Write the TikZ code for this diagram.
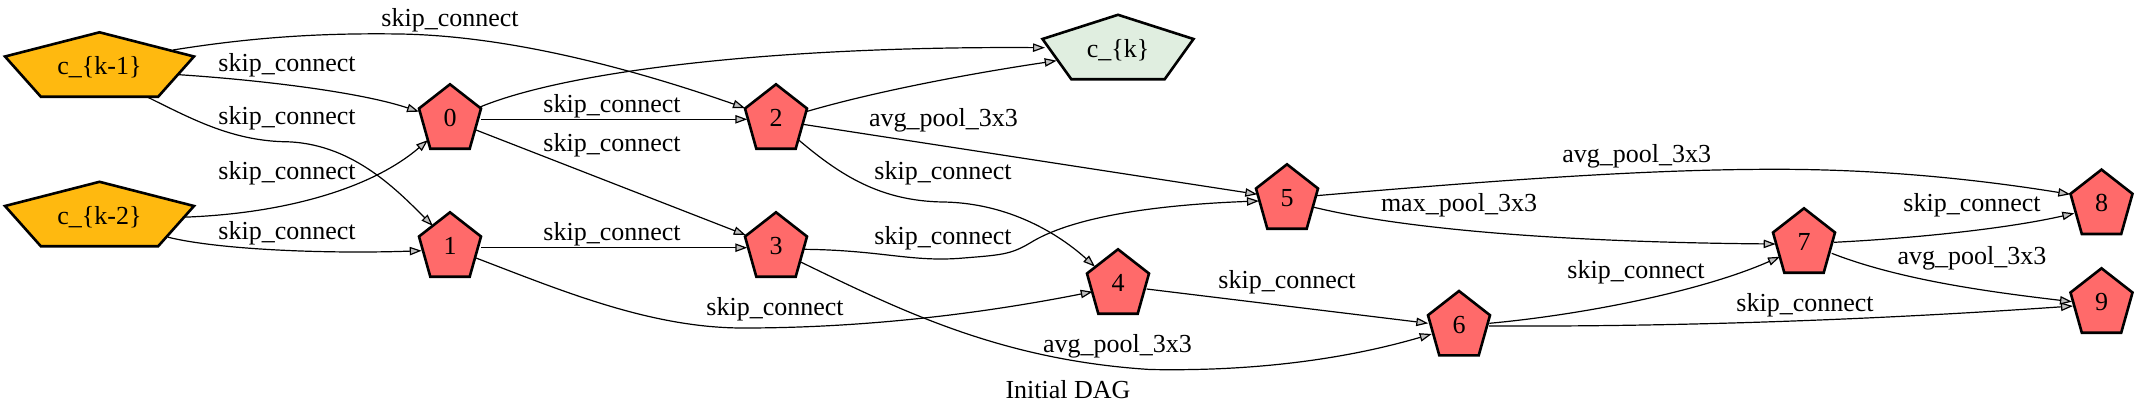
\documentclass[tikz,border=0pt]{standalone}
\usepackage{fontspec}
\setmainfont{Liberation Serif}
\usetikzlibrary{arrows.meta}
\definecolor{redfill}{HTML}{FF6A6A}
\definecolor{amberfill}{HTML}{FFB90F}
\definecolor{greenfill}{HTML}{E0EEE0}
\definecolor{arrowgray}{HTML}{C0C0C0}
\tikzset{
  pentline/.style={draw=black, line width=1.3pt, line join=miter},
  pentlabel/.style={draw=none, inner sep=0pt, text height=10pt, text depth=0pt, font=\fontsize{13pt}{15pt}\selectfont},
  conn/.style={draw=black, line width=0.6pt, -{Triangle[length=6pt,width=4.2pt,fill=arrowgray]}},
  elabel/.style={anchor=base, inner sep=0pt, font=\fontsize{13pt}{15pt}\selectfont}
}
% #1 name, #2 x, #3 y, #4 shoulder half width, #5 bottom half width, #6 fill, #7 text
\newcommand{\pentnode}[7]{%
  \draw[pentline, fill=#6] ({#2},{#3-32.2}) -- ({#2+#4},{#3-8}) -- ({#2+#5},{#3+32.2})
     -- ({#2-#5},{#3+32.2}) -- ({#2-#4},{#3-8}) -- cycle;
  \node[pentlabel, minimum width=#4pt, minimum height=32.2pt] (#1) at (#2,#3) {#7};
}
\begin{document}
\begin{tikzpicture}[x=0.5pt, y=-0.5pt]
\useasboundingbox (0,0) rectangle (2137,418);
% nodes
\pentnode{K1}{99.5}{64.5}{94.5}{58.7}{amberfill}{c\_\{k-1\}}
\pentnode{K2}{99.5}{214}{94.5}{58.7}{amberfill}{c\_\{k-2\}}
\pentnode{K}{1118}{47}{75.5}{46.7}{greenfill}{c\_\{k\}}
\pentnode{n0}{450}{116.5}{31}{19.7}{redfill}{0}
\pentnode{n1}{450}{244.5}{31}{19.7}{redfill}{1}
\pentnode{n2}{776}{116.5}{31}{19.7}{redfill}{2}
\pentnode{n3}{776}{244.5}{31}{19.7}{redfill}{3}
\pentnode{n4}{1118}{281.5}{31}{19.7}{redfill}{4}
\pentnode{n5}{1287}{196.5}{31}{19.7}{redfill}{5}
\pentnode{n6}{1459}{323.2}{31}{19.7}{redfill}{6}
\pentnode{n7}{1804}{240.5}{31}{19.7}{redfill}{7}
\pentnode{n8}{2101.5}{201.8}{31}{19.7}{redfill}{8}
\pentnode{n9}{2101.5}{300.5}{31}{19.7}{redfill}{9}
% edges
\draw[conn] ([shift={(73.5,-14.5)}]K1.center) .. controls (260,36) and (330,33) .. (400,34)
   .. controls (520,36) and (650,75) .. ([shift={(-31,-8.5)}]n2.center);
\node[elabel] (l1) at (450,26.7) {skip\_connect};
\draw[conn] ([shift={(79.5,10.2)}]K1.center) .. controls (260,80) and (360,92) .. ([shift={(-31,-4.8)}]n0.center);
\node[elabel] (l2) at (287,71) {skip\_connect};
\draw[conn] ([shift={(47.2,32.2)}]K1.center) .. controls (190,118) and (230,140) .. (283,141.7)
   .. controls (350,142) and (395,188) .. ([shift={(-17,-18.5)}]n1.center);
\node[elabel] (l3) at (287,124.3) {skip\_connect};
\draw[conn] ([shift={(83.5,3.2)}]K2.center) .. controls (280,214) and (370,190) .. ([shift={(-22,23.5)}]n0.center);
\node[elabel] (l4) at (287,179) {skip\_connect};
\draw[conn] ([shift={(68.5,23.2)}]K2.center) .. controls (220,250) and (330,254) .. ([shift={(-28.3,6.2)}]n1.center);
\node[elabel] (l5) at (287,239) {skip\_connect};
\draw[conn] ([shift={(30,-9.5)}]n0.center) .. controls (570,70) and (780,46) .. ([shift={(-73,0.7)}]K.center);
\draw[conn] ([shift={(31,2.8)}]n0.center) -- ([shift={(-28.7,2.8)}]n2.center);
\node[elabel] (l6) at (612,112.7) {skip\_connect};
\draw[conn] ([shift={(26,13.5)}]n0.center) -- ([shift={(-30.3,-9.5)}]n3.center);
\node[elabel] (l7) at (612,151) {skip\_connect};
\draw[conn] ([shift={(31,3.2)}]n1.center) -- ([shift={(-28.7,3.2)}]n3.center);
\node[elabel] (l8) at (612,240) {skip\_connect};
\draw[conn] ([shift={(26,13.5)}]n1.center) .. controls (560,290) and (650,328) .. (743,328)
   .. controls (880,328) and (1000,310) .. ([shift={(-25.3,10.2)}]n4.center);
\node[elabel] (l9) at (775,315.7) {skip\_connect};
\draw[conn] ([shift={(30,-4.8)}]n2.center) .. controls (880,90) and (980,72) .. ([shift={(-61.3,13.7)}]K.center);
\draw[conn] ([shift={(26.7,7.8)}]n2.center) -- ([shift={(-29.7,-2.2)}]n5.center);
\node[elabel] (l10) at (943.5,126.7) {avg\_pool\_3x3};
\draw[conn] ([shift={(22.7,23.5)}]n2.center) .. controls (840,175) and (880,201) .. (943,202)
   .. controls (1010,203) and (1060,235) .. ([shift={(-23,-14.8)}]n4.center);
\node[elabel] (l11) at (943,179.3) {skip\_connect};
\draw[conn] ([shift={(27,4.8)}]n3.center) .. controls (880,250) and (910,262) .. (960,258.3)
   .. controls (1000,255) and (1010,255) .. (1030,243)
   .. controls (1070,218) and (1150,205) .. ([shift={(-28,4.5)}]n5.center);
\node[elabel] (l12) at (943,244.3) {skip\_connect};
\draw[conn] ([shift={(24,17.2)}]n3.center) .. controls (900,310) and (1000,360) .. (1150,369.5)
   .. controls (1280,372) and (1370,352) .. ([shift={(-27.3,10.8)}]n6.center);
\node[elabel] (l13) at (1117.5,352.3) {avg\_pool\_3x3};
\draw[conn] ([shift={(28.7,7.5)}]n4.center) -- ([shift={(-30.7,0.1)}]n6.center);
\node[elabel] (l14) at (1287,288.3) {skip\_connect};
\draw[conn] ([shift={(29,-0.8)}]n5.center) .. controls (1500,180) and (1650,169) .. (1780,169.3)
   .. controls (1900,169.5) and (2000,183) .. ([shift={(-31.2,-7.5)}]n8.center);
\node[elabel] (l15) at (1636.7,162.3) {avg\_pool\_3x3};
\draw[conn] ([shift={(27,10.8)}]n5.center) .. controls (1400,228) and (1550,242) .. ([shift={(-28.3,3.5)}]n7.center);
\node[elabel] (l16) at (1459,211.7) {max\_pool\_3x3};
\draw[conn] ([shift={(30.3,0.1)}]n6.center) .. controls (1580,315) and (1700,292) .. ([shift={(-24,16.2)}]n7.center);
\node[elabel] (l17) at (1636,278.3) {skip\_connect};
\draw[conn] ([shift={(30,2.8)}]n6.center) .. controls (1700,327) and (1900,318) .. ([shift={(-28.5,5.5)}]n9.center);
\node[elabel] (l18) at (1805,311.7) {skip\_connect};
\draw[conn] ([shift={(30,1.8)}]n7.center) .. controls (1920,238) and (2010,228) .. ([shift={(-27.2,11.5)}]n8.center);
\node[elabel] (l19) at (1972,211.7) {skip\_connect};
\draw[conn] ([shift={(27.7,12.8)}]n7.center) .. controls (1900,280) and (1990,292) .. ([shift={(-29.5,1.2)}]n9.center);
\node[elabel] (l20) at (1972,264) {avg\_pool\_3x3};
% title
\node[elabel] (title) at (1068,398.3) {Initial DAG};
\end{tikzpicture}
\end{document}
